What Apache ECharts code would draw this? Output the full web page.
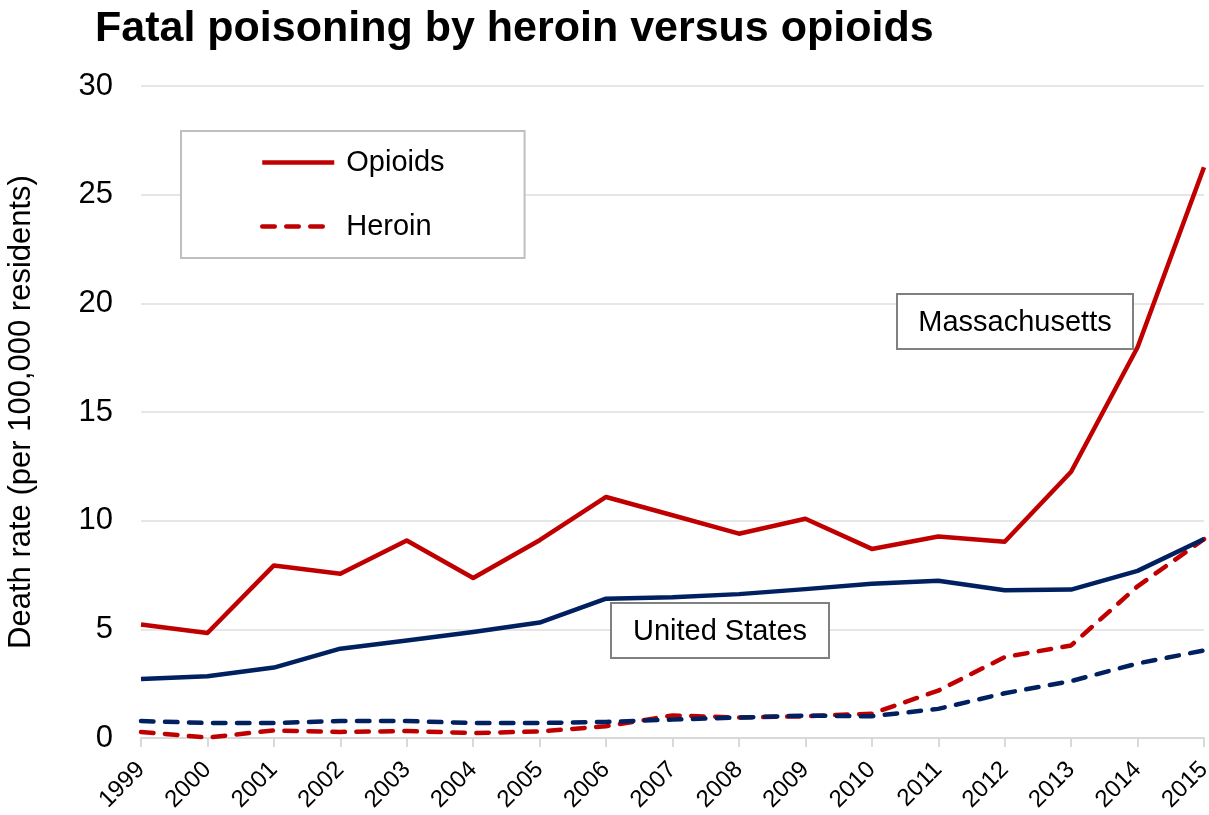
<!DOCTYPE html>
<html>
<head>
<meta charset="utf-8">
<script src="https://cdn.jsdelivr.net/npm/echarts@6/dist/echarts.min.js"></script>
<style>
  html, body { margin: 0; padding: 0; background: #ffffff; }
  #chart { width: 1209px; height: 815px; }
</style>
</head>
<body>
<div id="chart"></div>
<script>
// Death rate per 100,000 residents, 1999–2015
const years = ['1999','2000','2001','2002','2003','2004','2005','2006','2007','2008','2009','2010','2011','2012','2013','2014','2015'];
const maOpioids = [5.22, 4.83, 7.94, 7.56, 9.09, 7.36, 9.1, 11.09, 10.25, 9.4, 10.09, 8.7, 9.27, 9.03, 12.25, 17.98, 26.26];
const maHeroin  = [0.28, 0.02, 0.35, 0.28, 0.32, 0.23, 0.3, 0.54, 1.04, 0.94, 1.0, 1.12, 2.18, 3.72, 4.26, 6.98, 9.15];
const usOpioids = [2.71, 2.84, 3.24, 4.11, 4.49, 4.88, 5.31, 6.41, 6.48, 6.62, 6.85, 7.1, 7.24, 6.8, 6.83, 7.69, 9.16];
const usHeroin  = [0.78, 0.69, 0.69, 0.78, 0.78, 0.69, 0.69, 0.74, 0.85, 0.94, 1.03, 1.0, 1.34, 2.06, 2.62, 3.43, 4.03];
const yTicks = [0, 5, 10, 15, 20, 25, 30];

const RED = '#c00000';
const NAVY = '#002060';
const FONT = 'Liberation Sans, Arial, sans-serif';

const chart = echarts.init(document.getElementById('chart'), null, { renderer: 'canvas' });

function lineSeries(name, data, color, dashed) {
  return {
    name: name,
    type: 'line',
    data: data,
    symbol: 'none',
    smooth: false,
    lineStyle: {
      color: color,
      width: 4.5,
      type: dashed ? [12.5, 11.5] : 'solid',
      cap: dashed ? 'round' : 'butt',
      join: 'round'
    },
    itemStyle: { color: color },
    emphasis: { disabled: true },
    z: dashed ? 3 : 4
  };
}

// Boxed annotation label placed over the plot
function boxLabel(text, left, top, width, height) {
  return {
    type: 'group',
    left: left,
    top: top,
    z: 100,
    children: [
      { type: 'rect', z: 100, shape: { x: 0, y: 0, width: width, height: height },
        style: { fill: '#ffffff', stroke: '#808080', lineWidth: 2 } },
      { type: 'text', z: 101, x: width / 2, y: height / 2 + 1,
        style: { text: text, fontFamily: FONT, fontSize: 29, fill: '#000000',
                 textAlign: 'center', textVerticalAlign: 'middle' } }
    ]
  };
}

chart.setOption({
  animation: false,
  backgroundColor: '#ffffff',
  title: {
    text: 'Fatal poisoning by heroin versus opioids',
    left: 90,
    top: 3,
    textStyle: { fontFamily: FONT, fontSize: 43, fontWeight: 'bold', color: '#000000' }
  },
  legend: {
    data: ['Opioids', 'Heroin'],
    orient: 'vertical',
    left: 181,
    top: 131,
    padding: [17, 80, 17, 79],
    itemWidth: 72,
    itemHeight: 14,
    itemGap: 35,
    backgroundColor: '#ffffff',
    borderColor: '#bfbfbf',
    borderWidth: 2,
    itemStyle: { opacity: 0, borderWidth: 0 },
    lineStyle: { width: 4.5, opacity: 1 },
    textStyle: { fontFamily: FONT, fontSize: 29, color: '#000000', padding: [0, 0, 0, 7] }
  },
  grid: { left: 141, right: 5, top: 86, bottom: 77, containLabel: false, outerBoundsMode: 'none' },
  xAxis: {
    type: 'category',
    data: years,
    boundaryGap: false,
    axisLine: { show: true, lineStyle: { color: '#d9d9d9', width: 2 } },
    axisTick: { show: true, alignWithLabel: true, length: 9, lineStyle: { color: '#d9d9d9', width: 2 } },
    axisLabel: {
      interval: 0,
      rotate: 45,
      margin: 28,
      fontFamily: FONT,
      fontSize: 24,
      color: '#000000'
    },
    splitLine: { show: false }
  },
  yAxis: {
    type: 'value',
    min: yTicks[0],
    max: yTicks[yTicks.length - 1],
    interval: yTicks[1] - yTicks[0],
    name: 'Death rate (per 100,000 residents)',
    nameLocation: 'middle',
    nameGap: 104,
    nameTextStyle: { fontFamily: FONT, fontSize: 31, color: '#000000' },
    axisLine: { show: false },
    axisTick: { show: false },
    axisLabel: { margin: 28, fontFamily: FONT, fontSize: 31, color: '#000000' },
    splitLine: { lineStyle: { color: '#e6e6e6', width: 2 } }
  },
  series: [
    lineSeries('Opioids', maOpioids, RED, false),
    lineSeries('Heroin', maHeroin, RED, true),
    lineSeries('US Opioids', usOpioids, NAVY, false),
    lineSeries('US Heroin', usHeroin, NAVY, true)
  ],
  graphic: [
    boxLabel('Massachusetts', 896, 293, 236, 55),
    boxLabel('United States', 610, 602, 218, 55)
  ]
});
</script>
</body>
</html>
